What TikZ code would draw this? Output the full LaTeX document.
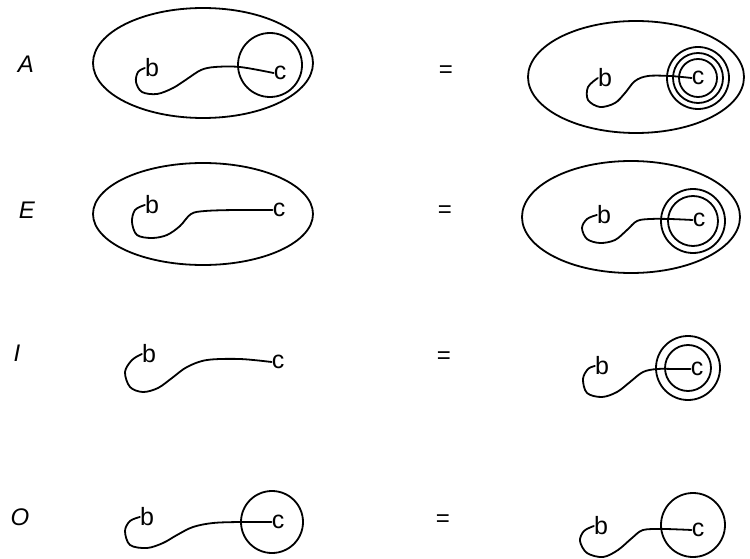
\documentclass[tikz,border=0pt]{standalone}
\usepackage{fontspec}
\setmainfont{Liberation Sans}
\begin{document}
\begin{tikzpicture}[x=1pt,y=-1pt,
  ln/.style={line width=1.8pt, line join=round, line cap=round},
  let/.style={inner sep=0pt, font=\fontsize{25}{25}\selectfont},
  lab/.style={inner sep=0pt, font=\fontsize{24}{24}\selectfont\itshape},
  eq/.style={inner sep=0pt, font=\fontsize{24}{24}\selectfont},
  curve/.style={ln, smooth, tension=0.55}]
\useasboundingbox (0,0) rectangle (750,559);

% ---------- Row A ----------
\node[lab] (lA) at (26,64) {A};
\draw[ln] (203,63) ellipse [x radius=110, y radius=55];
\draw[ln] (270,65) circle [radius=32];
\node[let] (bA) at (152,68) {b};
\node[let] (cA) at (280,73) {c};
\draw[curve] plot coordinates {(bA.west) (138,72) (136,82) (142,92) (157,94) (173,88) (187,79) (201,70) (215,67) (240,67) (cA.west)};
\node[eq] (eA) at (446,72) {=};
\draw[ln] (636,77) ellipse [x radius=108, y radius=56];
\draw[ln] (698,78) circle [radius=31];
\draw[ln] (698,78) circle [radius=25];
\draw[ln] (698,78) circle [radius=19];
\node[let] (bA2) at (605,78) {b};
\node[let] (cA2) at (698,78) {c};
\draw[curve] plot coordinates {(bA2.west) (588,87) (588,100) (600,107) (615,103) (625,93) (635,81) (648,76) (670,76) (cA2.west)};

% ---------- Row E ----------
\node[lab] (lE) at (27,210) {E};
\draw[ln] (203,214) ellipse [x radius=110, y radius=51];
\node[let] (bE) at (152,205) {b};
\node[let] (cE) at (279,210) {c};
\draw[curve] plot coordinates {(bE.west) (135,210) (132,222) (137,235) (152,238) (167,235) (180,226) (191,214) (205,211) (235,210) (cE.west)};
\node[eq] (eE) at (445,212) {=};
\draw[ln] (631,217) ellipse [x radius=109, y radius=56];
\draw[ln] (693,221) circle [radius=32];
\draw[ln] (693,221) circle [radius=25];
\node[let] (bE2) at (604,215) {b};
\node[let] (cE2) at (699,220) {c};
\draw[curve] plot coordinates {(bE2.west) (587,219) (582,228) (587,239) (600,243) (615,240) (627,230) (637,221) (650,219) (670,219) (cE2.west)};

% ---------- Row I ----------
\node[lab] (lI) at (17,353) {I};
\node[let] (bI) at (149,354) {b};
\node[let] (cI) at (278,362) {c};
\draw[curve] plot coordinates {(bI.west) (132,360) (125,372) (130,387) (143,392) (158,388) (172,378) (187,367) (207,360) (240,359) (cI.west)};
\node[eq] (eI) at (444,358) {=};
\draw[ln] (688,368) circle [radius=32];
\draw[ln] (688,368) circle [radius=23];
\node[let] (bI2) at (602,366) {b};
\node[let] (cI2) at (697,369) {c};
\draw[curve] plot coordinates {(bI2.west) (588,369) (583,379) (587,393) (602,397) (617,392) (630,382) (643,372) (657,369) (675,369) (cI2.west)};

% ---------- Row O ----------
\node[lab] (lO) at (20,517) {O};
\draw[ln] (272,522) circle [radius=31];
\node[let] (bO) at (147,517) {b};
\node[let] (cO) at (278,522) {c};
\draw[curve] plot coordinates {(bO.west) (130,521) (125,531) (130,545) (147,548) (163,543) (177,535) (193,527) (213,523) (240,522) (cO.west)};
\node[eq] (eO) at (443,521) {=};
\draw[ln] (693,525) circle [radius=32];
\node[let] (bO2) at (601,526) {b};
\node[let] (cO2) at (698,530) {c};
\draw[curve] plot coordinates {(bO2.west) (584,531) (580,541) (587,553) (603,557) (618,550) (632,538) (643,530) (662,529) (680,529.5) (cO2.west)};
\end{tikzpicture}
\end{document}
